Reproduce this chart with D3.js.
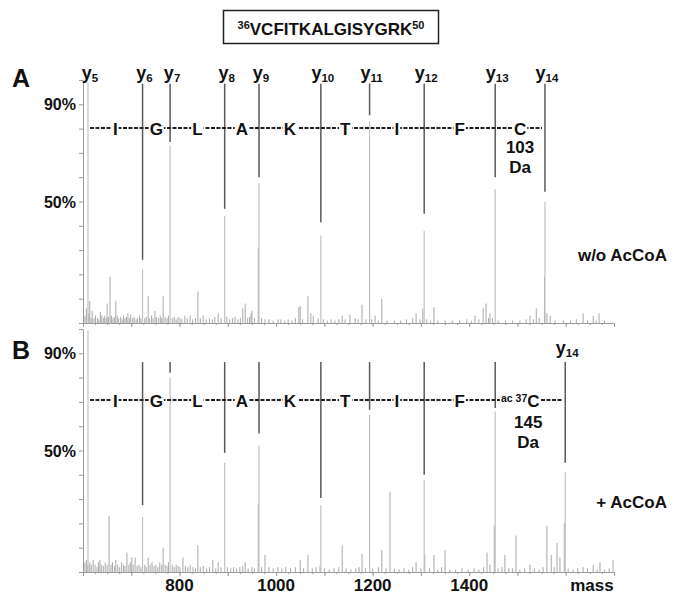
<!DOCTYPE html>
<html>
<head>
<meta charset="utf-8">
<script src="https://cdn.jsdelivr.net/npm/d3@7"></script>
<style>
  body { margin: 0; background: #fff; }
  svg text { font-family: "Liberation Sans", Arial, sans-serif; font-weight: bold; fill: #111; }
</style>
</head>
<body>
<svg id="chart" width="683" height="596"></svg>
<script>
// peptide + y-ion series
var titleStart = '36'
var titleSeq = 'VCFITKALGISYGRK'
var titleEnd = '50'
var ionNames = ['5','6','7','8','9','10','11','12','13','14']
var ionMassA = [610.3, 723.4, 780.4, 893.5, 964.6, 1092.7, 1193.7, 1306.8, 1453.9, 1557.0]
var ionMassB = [610.3, 723.4, 780.4, 893.5, 964.6, 1092.7, 1193.7, 1306.8, 1453.9, 1599.0]
var residues = ['I','G','L','A','K','T','I','F','C']

// relative intensity (%) of the y-ion peaks, and where the label line stops (%)
var intensA = [99, 22, 73, 44, 57.5, 36, 83, 38, 55, 50]
var markEndA = [null, 26, 74.5, 47, 60, 41.5, 85.5, 45, 60, 54]
var intensB = [99.5, 22.6, 80, 45, 52, 27.5, 64.6, 38, 66, 41]
var markEndB = [null, 27.5, 82, 49, 57, 30.5, 66.7, 40, 67.5, 45]

// background peaks [mass, %]
var noiseA = [[604,3],[607,6],[612,4],[614,9],[617,2],[619,5],[623,2],[626,3],[630,2],[633,1.5],[636,4.5],[639,3],[642,2],[645,3],[648,2],[650,8],[653,2.5],[656,19],[659,3],[662,2],[665,2.5],[668,9],[671,3],[674,2],[678,2.5],[681,1.5],[684,3],[687,2],[690,2.5],[693,4],[696,2],[699,3.5],[703,2],[706,2.5],[710,1.5],[713,2],[717,3],[720,2],[728,2],[731,2.5],[735,11],[738,2],[742,3],[745,2],[749,5],[752,2.5],[756,2],[760,3],[763,2],[766,11],[770,2.5],[774,2],[777,3],[785,2],[789,2.5],[793,1.5],[797,2.5],[801,2],[805,1.5],[811,3],[816,2],[822,3],[827,1.5],[833,2],[838,13],[843,2],[849,3],[855,1.5],[862,2],[868,1.5],[873,2.5],[880,4],[886,2],[898,2.5],[904,1.5],[910,2],[915,2.5],[921,1.5],[926,2],[931,6],[936,8],[941,2],[945,2.5],[948,4],[950,5],[955,2],[963,31],[970,2],[977,1.5],[985,1.5],[994,1],[1004,1.5],[1010,1.5],[1018,1],[1025,1.5],[1033,1],[1040,2],[1047,6.5],[1050,7],[1055,1.5],[1066,11],[1072,4],[1077,3],[1087,2],[1098,1.5],[1106,1],[1114,1.5],[1122,1],[1130,1.5],[1137,3],[1143,1.5],[1153,3.5],[1164,2],[1170,1.5],[1178,7.5],[1186,1.5],[1198,1.5],[1205,3],[1212,1],[1219,10],[1230,1],[1245,1],[1258,1],[1270,1.5],[1283,2],[1290,4],[1298,1.5],[1304,6],[1312,1.5],[1320,1],[1327,6.5],[1335,1],[1350,1],[1365,1],[1380,1],[1395,1.5],[1405,1],[1412,3],[1420,1.5],[1429,6],[1435,8],[1440,2],[1443,4],[1448,2],[1460,1],[1475,1],[1490,1],[1505,1],[1518,1.5],[1526,3],[1533,1.5],[1539,6],[1545,2],[1556,19],[1561,4],[1568,3],[1578,1],[1595,1],[1610,1],[1622,1.5],[1636,4],[1645,1],[1657,3],[1663,1],[1669,4],[1680,1]]
var noiseB = [[604,4],[607,5],[610,3],[614,4],[617,3],[621,5],[625,3],[629,2],[632,4],[635,5],[638,3],[642,2.5],[646,4],[650,3],[654,23],[658,3],[661,4],[665,2.5],[668,5],[672,3],[676,2],[680,4],[684,3],[687,2.5],[691,8],[695,3],[698,4],[701,6],[704,3],[708,6],[712,2.5],[716,3],[720,2],[728,3],[731,2],[735,6],[739,3],[743,4],[747,2.5],[751,3],[755,2],[759,4],[763,3],[766,10],[770,3],[774,2.5],[777,4],[785,3],[789,2],[793,3],[797,2.5],[801,2],[807,6],[812,2.5],[817,2],[822,3],[828,2],[833,1.5],[838,11],[843,2],[849,2.5],[856,1.5],[862,2],[869,5],[875,1.5],[880,4],[886,2],[899,2],[906,1.5],[912,2],[918,1.5],[925,2],[931,2.5],[936,4],[942,1.5],[950,2],[955,1.5],[963,28],[970,2],[977,7],[985,2],[994,1.5],[1004,2],[1012,1.5],[1020,2],[1030,1.5],[1040,2],[1050,5],[1057,1.5],[1066,7],[1075,1.5],[1083,2],[1091,2.5],[1100,1.5],[1110,1],[1120,1.5],[1130,2],[1137,11],[1145,1.5],[1155,1],[1165,1.5],[1172,2],[1178,7.5],[1185,1.5],[1200,1.5],[1212,2],[1219,9],[1228,1.5],[1236,33],[1245,1.5],[1255,1],[1265,1.5],[1275,1],[1283,2],[1290,4],[1300,1.5],[1308,7],[1318,1.5],[1327,7],[1335,1],[1343,2],[1350,9],[1360,1],[1372,1],[1385,1.5],[1398,1],[1410,1.5],[1420,1],[1430,2],[1437,8],[1443,3],[1452,19],[1460,1.5],[1468,2],[1474,7],[1482,1.5],[1490,1.5],[1497,15],[1505,1],[1515,1.5],[1526,3],[1535,1.5],[1545,1],[1553,2],[1561,19],[1570,7],[1576,2],[1582,12],[1588,6],[1597,20],[1605,1.5],[1615,1],[1625,1.5],[1636,2],[1645,1.5],[1657,3],[1665,1],[1671,4],[1680,1],[1690,1.5],[1698,5]]

var massTicks = [800, 1000, 1200, 1400]
var pctTicks = [90, 50]

var panels = [
  { name: 'A', ions: ionMassA, inten: intensA, markEnd: markEndA, markTop: 98.5, noise: noiseA,
    base: 323, top: 80, dashY: 128, daY: [153, 173], daText: '103', labels: [0,1,2,3,4,5,6,7,8,9],
    labelY: 78.5, note: 'w/o AcCoA', noteY: 261, letterY: 87, acetyl: false },
  { name: 'B', ions: ionMassB, inten: intensB, markEnd: markEndB, markTop: 86.4, noise: noiseB,
    base: 572, top: 329, dashY: 400, daY: [428, 448], daText: '145', labels: [9],
    labelY: 354, note: '+ AcCoA', noteY: 508, letterY: 359, acetyl: true }
]

var svg = d3.select('#chart')
svg.append('rect').attr('width', 683).attr('height', 596).attr('fill', '#fff')

var x = d3.scaleLinear().domain([600, 1700]).range([83, 614])

// title box
svg.append('rect')
  .attr('x', 223.5).attr('y', 10.5).attr('width', 215).attr('height', 33)
  .attr('fill', 'none').attr('stroke', '#222').attr('stroke-width', 1.5)
var title = svg.append('text').attr('x', 331).attr('y', 35).attr('text-anchor', 'middle').attr('font-size', 17)
title.append('tspan').attr('font-size', 11).attr('dy', -6).text(titleStart)
title.append('tspan').attr('dy', 6).text(titleSeq)
title.append('tspan').attr('font-size', 11).attr('dy', -6).text(titleEnd)

panels.forEach(function(p) {
  var y = d3.scaleLinear().domain([0, 100]).range([p.base, p.top])
  var g = svg.append('g').attr('class', 'panel-' + p.name)

  // axes
  var xMinor = g.append('g').attr('transform', 'translate(0,' + p.base + ')')
    .call(d3.axisBottom(x).tickValues(d3.range(600, 1701, 25)).tickSize(2).tickSizeOuter(0).tickFormat(''))
  var xMajor = g.append('g').attr('transform', 'translate(0,' + p.base + ')')
    .call(d3.axisBottom(x).tickValues(d3.range(600, 1701, 100)).tickSize(4).tickSizeOuter(0).tickFormat(''))
  var yAx = g.append('g').attr('transform', 'translate(83,0)')
    .call(d3.axisLeft(y).tickValues(d3.range(0, 101, 10)).tickSize(4).tickSizeOuter(0).tickFormat(''))
  ;[xMinor, xMajor, yAx].forEach(function(a) {
    a.selectAll('path, line').attr('stroke', '#9a9a9a')
  })

  pctTicks.forEach(function(v) {
    g.append('text').attr('x', 76).attr('y', y(v) + 6).attr('text-anchor', 'end')
      .attr('font-size', 16).text(v + '%')
  })

  // background spectrum
  g.selectAll('.noise').data(p.noise).enter().append('line')
    .attr('class', 'noise')
    .attr('x1', d => x(d[0])).attr('x2', d => x(d[0]))
    .attr('y1', y(0)).attr('y2', d => y(d[1]))
    .attr('stroke', '#a9a9a9').attr('stroke-width', 1)

  var ions = p.ions.map(function(m, i) {
    return { m: m, h: p.inten[i], e: p.markEnd[i], name: ionNames[i] }
  })

  // y-ion peaks
  g.selectAll('.peak').data(ions).enter().append('line')
    .attr('class', 'peak')
    .attr('x1', d => x(d.m)).attr('x2', d => x(d.m))
    .attr('y1', y(0)).attr('y2', d => y(d.h))
    .attr('stroke', '#c2c2c2').attr('stroke-width', 1.2)

  // label lines
  g.selectAll('.mark').data(ions.filter(d => d.e != null)).enter().append('line')
    .attr('class', 'mark')
    .attr('x1', d => x(d.m)).attr('x2', d => x(d.m))
    .attr('y1', y(p.markTop)).attr('y2', d => y(d.e))
    .attr('stroke', '#5a5a5a').attr('stroke-width', 1.5)

  // ion labels
  p.labels.forEach(function(i) {
    var lab = g.append('text').attr('x', x(ions[i].m) + 2).attr('y', p.labelY)
      .attr('text-anchor', 'middle').attr('font-size', 18)
    lab.append('tspan').text('y')
    lab.append('tspan').attr('font-size', 11.5).attr('dy', 3).text(ions[i].name)
  })

  // sequence ladder
  var x0 = x(p.ions[0]) + 2
  var x1 = x(p.ions[p.ions.length - 1]) - 3
  g.append('line').attr('x1', x0).attr('x2', x1).attr('y1', p.dashY).attr('y2', p.dashY)
    .attr('stroke', '#222').attr('stroke-width', 2).attr('stroke-dasharray', '4,1.5')

  residues.forEach(function(r, i) {
    var mid = (x(p.ions[i]) + x(p.ions[i + 1])) / 2
    var last = i === residues.length - 1
    var t = g.append('text').attr('y', p.dashY + 6.5).attr('font-size', 17).attr('text-anchor', 'middle')
    if (last && p.acetyl) {
      t.attr('x', mid - 10)
      t.append('tspan').attr('font-size', 10.5).attr('dy', -5).text('ac')
      t.append('tspan').attr('font-size', 10.5).attr('dx', 3).text('37')
      t.append('tspan').attr('dy', 5).text(r)
    } else {
      t.attr('x', mid).text(r)
    }
    var bb = t.node().getBBox()
    g.insert('rect', function() { return t.node() })
      .attr('x', bb.x - 1).attr('y', p.dashY - 2.5).attr('width', bb.width + 2).attr('height', 5)
      .attr('fill', '#fff')
    if (last) {
      var cx = p.acetyl ? mid - 2 : mid
      g.append('text').attr('x', cx).attr('y', p.daY[0]).attr('text-anchor', 'middle').attr('font-size', 17).text(p.daText)
      g.append('text').attr('x', cx).attr('y', p.daY[1]).attr('text-anchor', 'middle').attr('font-size', 17).text('Da')
    }
  })

  // panel letter and condition
  g.append('text').attr('x', 12).attr('y', p.letterY).attr('font-size', 25).text(p.name)
  g.append('text').attr('x', 667).attr('y', p.noteY).attr('text-anchor', 'end').attr('font-size', 17).text(p.note)

  if (p.name === 'B') {
    massTicks.forEach(function(v) {
      g.append('text').attr('x', x(v)).attr('y', 591).attr('text-anchor', 'middle').attr('font-size', 17).text(v)
    })
    g.append('text').attr('x', 592).attr('y', 591).attr('text-anchor', 'middle').attr('font-size', 17).text('mass')
  }
})
</script>
</body>
</html>
